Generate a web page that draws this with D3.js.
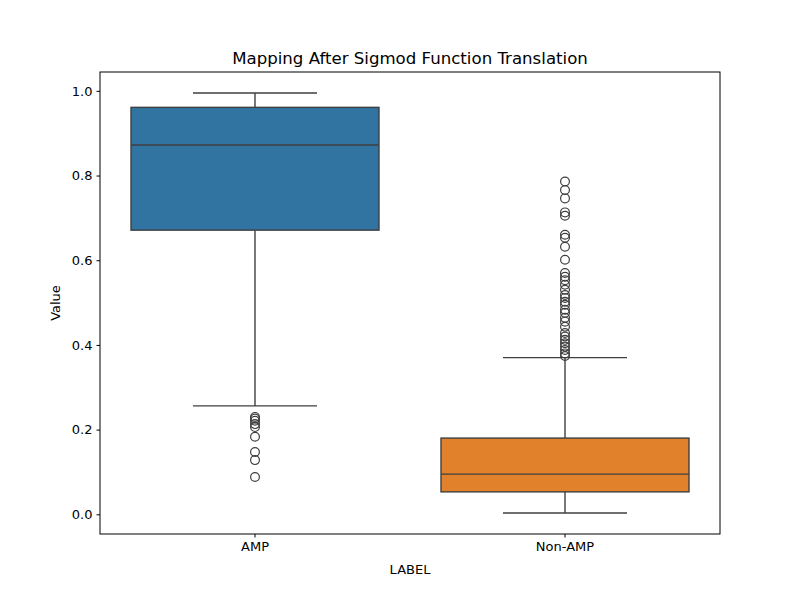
<!DOCTYPE html>
<html>
<head>
<meta charset="utf-8">
<script src="https://cdn.jsdelivr.net/npm/d3@7"></script>
<style>
  body { margin: 0; background: #fff; }
  text { font-family: "DejaVu Sans", sans-serif; fill: #000; }
</style>
</head>
<body>
<script>
// box stats
var categories = ['AMP', 'Non-AMP'];
var colors = ['#3274a1', '#e1812c'];
var whiskerLow = [0.256, 0.003];
var q1 = [0.671, 0.053];
var median = [0.872, 0.095];
var q3 = [0.961, 0.180];
var whiskerHigh = [0.995, 0.370];

var ampOutliers = [0.230, 0.226, 0.221, 0.213, 0.206, 0.183, 0.147, 0.128, 0.088];
var nonAmpOutliers = [0.786, 0.766, 0.746, 0.713, 0.705, 0.660, 0.653, 0.632, 0.601,
  0.570, 0.561, 0.553, 0.542, 0.530, 0.518, 0.511, 0.502, 0.495, 0.483, 0.476,
  0.464, 0.455, 0.443, 0.428, 0.420, 0.412, 0.404, 0.396, 0.388, 0.380, 0.374];
var outliers = [ampOutliers, nonAmpOutliers];

var yTicks = [0.0, 0.2, 0.4, 0.6, 0.8, 1.0];

var margin = {left: 100, right: 80, top: 72, bottom: 66};
var width = 800, height = 600;

var svg = d3.select('body').append('svg')
  .attr('width', width)
  .attr('height', height);

var x = d3.scaleBand()
  .domain(categories)
  .range([margin.left, width - margin.right]);

var y = d3.scaleLinear()
  .domain([-0.0465, 1.0445])
  .range([height - margin.bottom, margin.top]);

var line = '#3f3f3f';
var boxW = x.bandwidth() * 0.8;

var data = categories.map(function(c, i) {
  return {cat: c, i: i};
});

var g = svg.selectAll('g.box').data(data).enter().append('g').attr('class', 'box');

// whisker stems
g.append('line')
  .attr('x1', function(d) { return x(d.cat) + x.bandwidth() / 2; })
  .attr('x2', function(d) { return x(d.cat) + x.bandwidth() / 2; })
  .attr('y1', function(d) { return y(whiskerHigh[d.i]); })
  .attr('y2', function(d) { return y(q3[d.i]); })
  .attr('stroke', line).attr('stroke-width', 1.4);
g.append('line')
  .attr('x1', function(d) { return x(d.cat) + x.bandwidth() / 2; })
  .attr('x2', function(d) { return x(d.cat) + x.bandwidth() / 2; })
  .attr('y1', function(d) { return y(q1[d.i]); })
  .attr('y2', function(d) { return y(whiskerLow[d.i]); })
  .attr('stroke', line).attr('stroke-width', 1.4);

// caps
[whiskerLow, whiskerHigh].forEach(function(arr) {
  g.append('line')
    .attr('x1', function(d) { return x(d.cat) + x.bandwidth() / 2 - boxW / 4; })
    .attr('x2', function(d) { return x(d.cat) + x.bandwidth() / 2 + boxW / 4; })
    .attr('y1', function(d) { return y(arr[d.i]); })
    .attr('y2', function(d) { return y(arr[d.i]); })
    .attr('stroke', line).attr('stroke-width', 1.4);
});

// boxes
g.append('rect')
  .attr('x', function(d) { return x(d.cat) + (x.bandwidth() - boxW) / 2; })
  .attr('width', boxW)
  .attr('y', function(d) { return y(q3[d.i]); })
  .attr('height', function(d) { return y(q1[d.i]) - y(q3[d.i]); })
  .attr('fill', function(d) { return colors[d.i]; })
  .attr('stroke', line).attr('stroke-width', 1.4);

// medians
g.append('line')
  .attr('x1', function(d) { return x(d.cat) + (x.bandwidth() - boxW) / 2; })
  .attr('x2', function(d) { return x(d.cat) + (x.bandwidth() + boxW) / 2; })
  .attr('y1', function(d) { return y(median[d.i]); })
  .attr('y2', function(d) { return y(median[d.i]); })
  .attr('stroke', line).attr('stroke-width', 1.4);

// fliers
g.each(function(d) {
  d3.select(this).selectAll('circle').data(outliers[d.i]).enter().append('circle')
    .attr('cx', x(d.cat) + x.bandwidth() / 2)
    .attr('cy', function(v) { return y(v); })
    .attr('r', 4.4)
    .attr('fill', 'none')
    .attr('stroke', line).attr('stroke-width', 1.2);
});

// frame
svg.append('rect')
  .attr('x', margin.left).attr('y', margin.top)
  .attr('width', width - margin.left - margin.right)
  .attr('height', height - margin.top - margin.bottom)
  .attr('fill', 'none').attr('stroke', '#000').attr('stroke-width', 1);

var yAxis = svg.append('g')
  .attr('transform', 'translate(' + margin.left + ',0)')
  .call(d3.axisLeft(y).tickValues(yTicks).tickFormat(d3.format('.1f')).tickSizeOuter(0).tickSize(3.5).tickPadding(4));
var xAxis = svg.append('g')
  .attr('transform', 'translate(0,' + (height - margin.bottom) + ')')
  .call(d3.axisBottom(x).tickSizeOuter(0).tickSize(3.5).tickPadding(4));
[xAxis, yAxis].forEach(function(a) {
  a.select('.domain').remove();
  a.selectAll('text').attr('font-size', 13).attr('font-family', 'DejaVu Sans, sans-serif');
  a.selectAll('line').attr('stroke', '#000');
});

svg.append('text')
  .attr('x', (margin.left + width - margin.right) / 2)
  .attr('y', 64)
  .attr('text-anchor', 'middle')
  .attr('font-size', 16.6)
  .text('Mapping After Sigmod Function Translation');

svg.append('text')
  .attr('x', (margin.left + width - margin.right) / 2)
  .attr('y', 574)
  .attr('text-anchor', 'middle')
  .attr('font-size', 13)
  .text('LABEL');

svg.append('text')
  .attr('transform', 'translate(60,' + ((margin.top + height - margin.bottom) / 2) + ') rotate(-90)')
  .attr('text-anchor', 'middle')
  .attr('font-size', 13)
  .text('Value');
</script>
</body>
</html>
